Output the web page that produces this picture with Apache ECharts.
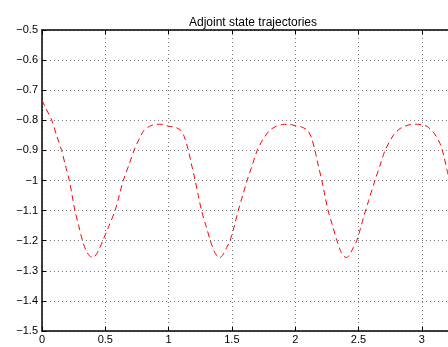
<!DOCTYPE html>
<html>
<head>
<meta charset="utf-8">
<script src="https://cdn.jsdelivr.net/npm/echarts@6/dist/echarts.min.js"></script>
<style>html,body{margin:0;padding:0;background:#fff;}#c{width:448px;height:347px;}</style>
</head>
<body>
<div id="c"></div>
<script>
var titleText = "Adjoint state trajectories";
var xTicks = [0, 0.5, 1, 1.5, 2, 2.5, 3];
var yTicks = [-1.5, -1.4, -1.3, -1.2, -1.1, -1, -0.9, -0.8, -0.7, -0.6, -0.5];
var xs = [0, 0.03, 0.077, 0.115, 0.155, 0.185, 0.216, 0.238, 0.26, 0.29, 0.32, 0.35, 0.38, 0.405, 0.43, 0.455, 0.48, 0.53, 0.577, 0.61, 0.642, 0.685, 0.727, 0.77, 0.806, 0.85, 0.88, 0.93, 0.97,
  1.0, 1.05, 1.10, 1.13, 1.156, 1.18, 1.21, 1.235, 1.26, 1.295, 1.33, 1.36, 1.385, 1.406, 1.43, 1.46, 1.485, 1.52, 1.55, 1.585, 1.62, 1.66, 1.70, 1.75, 1.80, 1.85, 1.90, 1.95,
  2.0, 2.05, 2.10, 2.13, 2.156, 2.18, 2.21, 2.235, 2.26, 2.295, 2.33, 2.36, 2.385, 2.407, 2.43, 2.46, 2.486, 2.515, 2.54, 2.58, 2.63, 2.67, 2.71, 2.775, 2.82, 2.855, 2.90, 2.96,
  3.0, 3.04, 3.07, 3.10, 3.145, 3.175, 3.20, 3.23];
var ys = [-0.733, -0.76, -0.80, -0.85, -0.90, -0.95, -1.00, -1.05, -1.10, -1.15, -1.20, -1.235, -1.252, -1.256, -1.245, -1.225, -1.20, -1.15, -1.10, -1.05, -1.00, -0.95, -0.90, -0.86, -0.833, -0.82, -0.815, -0.813, -0.816,
  -0.820, -0.823, -0.835, -0.862, -0.90, -0.945, -1.00, -1.05, -1.10, -1.15, -1.20, -1.235, -1.252, -1.256, -1.246, -1.222, -1.20, -1.15, -1.10, -1.05, -1.00, -0.95, -0.90, -0.86, -0.833, -0.82, -0.814, -0.813,
  -0.818, -0.822, -0.835, -0.860, -0.90, -0.945, -1.00, -1.05, -1.10, -1.15, -1.20, -1.236, -1.252, -1.256, -1.246, -1.222, -1.20, -1.16, -1.122, -1.067, -1.00, -0.95, -0.90, -0.85, -0.83, -0.822, -0.815, -0.813,
  -0.815, -0.820, -0.830, -0.844, -0.878, -0.92, -0.967, -1.02];

var data = xs.map(function (x, i) { return [x, ys[i]]; });
function fmt(v) {
  var s = String(Math.round(v * 10) / 10);
  return s.replace('-', '\u2212');
}
var font = 'Liberation Sans, Arial, Helvetica, sans-serif';
var chart = echarts.init(document.getElementById('c'), null, { renderer: 'canvas' });
chart.setOption({
  animation: false,
  backgroundColor: '#fff',
  title: {
    text: titleText, left: 248, top: 12, textAlign: 'center',
    textStyle: { fontFamily: font, fontSize: 12, fontWeight: 'normal', color: '#000' }
  },
  grid: { left: 42, top: 30, right: 0, bottom: 16, show: false },
  xAxis: [{
    type: 'value', min: 0, max: 3.207, interval: 0.5, position: 'bottom',
    axisLine: { show: true, onZero: false, lineStyle: { color: '#000', width: 1.5 } },
    axisTick: { show: true, inside: true, length: 4, lineStyle: { color: '#000' } },
    axisLabel: { color: '#000', fontFamily: font, fontSize: 11, margin: 3, formatter: fmt, showMaxLabel: false },
    splitLine: { show: true, lineStyle: { color: '#777', type: [1, 3], width: 1 } }
  }, {
    type: 'value', min: 0, max: 3.207, interval: 0.5, position: 'top',
    axisLine: { show: true, onZero: false, lineStyle: { color: '#000', width: 1.5 } },
    axisTick: { show: true, inside: true, length: 4, lineStyle: { color: '#000' } },
    axisLabel: { show: false },
    splitLine: { show: false }
  }],
  yAxis: [{
    type: 'value', min: -1.5, max: -0.5, interval: 0.1,
    axisLine: { show: true, onZero: false, lineStyle: { color: '#000', width: 1.5 } },
    axisTick: { show: true, inside: true, length: 4, lineStyle: { color: '#000' } },
    axisLabel: { color: '#000', fontFamily: font, fontSize: 11, margin: 4, formatter: fmt },
    splitLine: { show: true, lineStyle: { color: '#777', type: [1, 3], width: 1 } }
  }],
  series: [{
    type: 'line', xAxisIndex: 0, yAxisIndex: 0, data: data, showSymbol: false, smooth: 0.3,
    lineStyle: { color: '#ff0000', width: 1, type: [6, 4] }
  }]
});
</script>
</body>
</html>
